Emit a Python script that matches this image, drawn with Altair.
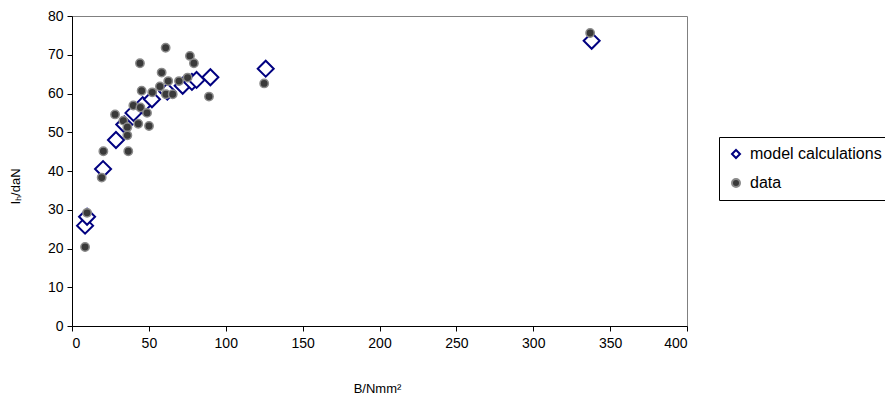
import altair as alt
import pandas as pd

# model calculations (diamonds)
model_b = [8.5, 9.8, 20.2, 28.6, 34.0, 40.0, 46.0, 52.0, 62.0, 72.0, 78.0, 81.0, 90.0, 126.0, 338.0]
model_i = [25.9, 28.2, 40.5, 48.0, 52.0, 55.0, 57.0, 58.5, 60.5, 62.0, 63.0, 63.5, 64.2, 66.4, 73.6]

# measured data (dots)
data_b = [8.5, 9.8, 19.3, 20.4, 28.0, 33.4, 36.0, 36.0, 36.6, 39.9, 44.5, 48.8, 43.1, 50.1,
          60.9, 44.2, 76.7, 79.3, 58.3, 62.6, 69.6, 75.2, 57.2, 45.3, 52.2, 61.1, 65.5, 89.1,
          125.0, 337.0]
data_i = [20.4, 29.2, 38.3, 45.1, 54.6, 53.0, 51.3, 49.2, 45.1, 56.9, 56.4, 55.0, 52.2, 51.6,
          71.8, 67.8, 69.7, 67.8, 65.4, 63.2, 63.2, 64.1, 61.8, 60.7, 60.3, 59.8, 59.8, 59.2,
          62.6, 75.6]

series_names = ["model calculations", "data"]
x_ticks = [0, 50, 100, 150, 200, 250, 300, 350, 400]
y_ticks = [0, 10, 20, 30, 40, 50, 60, 70, 80]

model_df = pd.DataFrame({"B": model_b, "I": model_i, "series": series_names[0]})
data_df = pd.DataFrame({"B": data_b, "I": data_i, "series": series_names[1]})

FONT = "Liberation Sans"

x_enc = alt.X("B:Q", scale=alt.Scale(domain=[0, 400], nice=False),
              axis=alt.Axis(values=x_ticks, title="B/Nmm²", grid=False,
                            titleX=305, titleY=62, titleBaseline="middle",
                            labelPadding=5))
y_enc = alt.Y("I:Q", scale=alt.Scale(domain=[0, 80], nice=False),
              axis=alt.Axis(values=y_ticks, title="Iₕ/daN", grid=False,
                            titleX=-57, titleY=170, titleBaseline="middle",
                            titleAngle=-90, labelPadding=4))
shape_enc = alt.Shape("series:N", scale=alt.Scale(domain=series_names, range=["diamond", "circle"]),
                      legend=alt.Legend(title=None))
fill_enc = alt.Fill("series:N", scale=alt.Scale(domain=series_names, range=["white", "#3a3a3a"]),
                    legend=alt.Legend(title=None))
stroke_enc = alt.Stroke("series:N", scale=alt.Scale(domain=series_names, range=["#000080", "#8a8a8a"]),
                        legend=alt.Legend(title=None))

model_layer = alt.Chart(model_df).mark_point(filled=True, opacity=1, size=256, strokeWidth=2).encode(
    x=x_enc, y=y_enc, shape=shape_enc, fill=fill_enc, stroke=stroke_enc)
data_layer = alt.Chart(data_df).mark_point(filled=True, opacity=1, size=70, strokeWidth=1.5).encode(
    x=x_enc, y=y_enc, shape=shape_enc, fill=fill_enc, stroke=stroke_enc)

chart = alt.layer(model_layer, data_layer).properties(
    width=615, height=310,
    autosize=alt.AutoSizeParams(type="none"),
    padding={"left": 64, "top": 8, "right": 198, "bottom": 68},
).configure_view(
    stroke="#808080", strokeWidth=1
).configure_axis(
    domainColor="black", tickColor="black", labelColor="black", titleColor="black",
    labelFont=FONT, titleFont=FONT, labelFontSize=14, titleFontSize=13,
    titleFontWeight="normal", tickSize=5, domainWidth=1, tickWidth=1
).configure_legend(
    orient="none", legendX=647, legendY=121,
    strokeColor="black", fillColor="white", padding=9, rowPadding=13,
    labelFont=FONT, labelFontSize=16, labelColor="black", symbolSize=64,
    symbolStrokeWidth=2, labelOffset=6
)

chart.save("out.html", embed_options={"renderer": "svg", "actions": False})
